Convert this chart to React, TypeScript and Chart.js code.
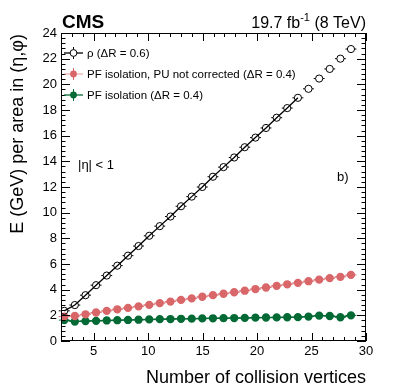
import React, { useEffect, useRef } from "react";
import { Chart, registerables } from "chart.js";

Chart.register(...registerables);

// ---------------- data ----------------
const vertices = [
  2.3, 3.27, 4.25, 5.22, 6.2, 7.17, 8.15, 9.12, 10.1, 11.07, 12.05, 13.02, 14.0, 14.97,
  15.95, 16.92, 17.9, 18.87, 19.85, 20.82, 21.8, 22.77, 23.75, 24.72, 25.7, 26.67, 27.65, 28.62,
];
const rho = [
  2.35, 2.8, 3.57, 4.35, 5.1, 5.87, 6.65, 7.4, 8.2, 8.95, 9.7, 10.5, 11.25, 12.0,
  12.8, 13.55, 14.3, 15.1, 15.85, 16.6, 17.4, 18.15, 18.95, 19.65, 20.45, 21.2, 22.0, 22.75,
];
const pfNotCorrected = [
  1.9, 1.95, 2.08, 2.22, 2.35, 2.47, 2.58, 2.7, 2.82, 2.95, 3.07, 3.2, 3.32, 3.45,
  3.57, 3.68, 3.8, 3.92, 4.05, 4.17, 4.3, 4.42, 4.53, 4.66, 4.78, 4.9, 5.0, 5.15,
];
const pfIsolation = [
  1.63, 1.52, 1.55, 1.57, 1.6, 1.62, 1.64, 1.66, 1.68, 1.7, 1.71, 1.73, 1.74, 1.76,
  1.77, 1.78, 1.79, 1.8, 1.82, 1.83, 1.84, 1.85, 1.86, 1.9, 1.98, 1.95, 1.85, 2.0,
];
const rhoLinePoints = 23; // points covered by the drawn ρ line
const binHalfWidth = 0.5;
const xTickValues = [5, 10, 15, 20, 25, 30];
const yTickValues = [0, 2, 4, 6, 8, 10, 12, 14, 16, 18, 20, 22, 24];
const legendLabels = [
  "ρ (ΔR = 0.6)",
  "PF isolation, PU not corrected (ΔR = 0.4)",
  "PF isolation (ΔR = 0.4)",
];
const xTitle = "Number of collision vertices";
const yTitle = "E (GeV) per area in (η,φ)";

// ---------------- style ----------------
const FONT = "'Liberation Sans', Arial, Helvetica, sans-serif";
const RED = "#d9676a";
const RED_LINE = "rgba(225,130,132,0.65)";
const GREEN = "#046a35";
const BLACK = "#000";
const W = 407;
const H = 391;
const AREA = { left: 61, right: 366, top: 33, bottom: 341 };

const toPts = (ys: number[]) => ys.map((y, i) => ({ x: vertices[i], y }));

const decor = {
  id: "decor",
  beforeDatasetsDraw(chart: any) {
    const ctx = chart.ctx;
    const xs = chart.scales.x;
    const ys = chart.scales.y;
    const series = [
      { vals: rho, color: BLACK, r: 3.6 },
      { vals: pfNotCorrected, color: RED, r: 3.4 },
      { vals: pfIsolation, color: GREEN, r: 3.4 },
    ];
    ctx.save();
    ctx.lineWidth = 1;
    series.forEach((s) => {
      ctx.strokeStyle = s.color;
      s.vals.forEach((v, i) => {
        const px = xs.getPixelForValue(vertices[i]);
        const py = ys.getPixelForValue(v);
        const l = xs.getPixelForValue(vertices[i] - binHalfWidth);
        const r = xs.getPixelForValue(vertices[i] + binHalfWidth);
        ctx.beginPath();
        ctx.moveTo(l, py);
        ctx.lineTo(px - s.r, py);
        ctx.moveTo(px + s.r, py);
        ctx.lineTo(r, py);
        ctx.stroke();
      });
    });
    ctx.restore();
  },
  afterDatasetsDraw(chart: any) {
    const ctx = chart.ctx;
    const a = chart.chartArea;
    const xs = chart.scales.x;
    const ys = chart.scales.y;
    ctx.save();
    ctx.strokeStyle = "#000";
    ctx.lineWidth = 1;
    ctx.strokeRect(a.left + 0.5, a.top + 0.5, a.right - a.left - 1, a.bottom - a.top - 1);
    ctx.beginPath();
    for (let v = Math.ceil(xs.min); v <= xs.max; v += 1) {
      const px = Math.round(xs.getPixelForValue(v)) + 0.5;
      const len = v % 5 === 0 ? 8 : 4;
      ctx.moveTo(px, a.bottom);
      ctx.lineTo(px, a.bottom - len);
      ctx.moveTo(px, a.top);
      ctx.lineTo(px, a.top + len);
    }
    for (let k = 0; k <= 60; k++) {
      const v = k * 0.4;
      if (v > ys.max + 1e-6) break;
      const py = Math.round(ys.getPixelForValue(v)) + 0.5;
      const len = k % 5 === 0 ? 9 : 4.5;
      ctx.moveTo(a.left, py);
      ctx.lineTo(a.left + len, py);
      ctx.moveTo(a.right, py);
      ctx.lineTo(a.right - len, py);
    }
    ctx.stroke();
    ctx.restore();
  },
  afterDraw(chart: any) {
    const ctx = chart.ctx;
    const a = chart.chartArea;
    ctx.save();
    ctx.fillStyle = "#000";
    ctx.textBaseline = "alphabetic";
    ctx.font = `bold 19px ${FONT}`;
    ctx.textAlign = "left";
    ctx.fillText("CMS", a.left + 1, 28);
    const big = `16px ${FONT}`;
    const small = `11px ${FONT}`;
    ctx.font = big;
    const p1 = "19.7 fb";
    const p3 = " (8 TeV)";
    const w1 = ctx.measureText(p1).width;
    const w3 = ctx.measureText(p3).width;
    ctx.font = small;
    const p2 = "-1";
    const w2 = ctx.measureText(p2).width;
    const x0 = a.right - (w1 + w2 + w3);
    ctx.font = big;
    ctx.fillText(p1, x0, 28);
    ctx.font = small;
    ctx.fillText(p2, x0 + w1, 21);
    ctx.font = big;
    ctx.fillText(p3, x0 + w1 + w2, 28);

    // legend
    ctx.font = `11.5px ${FONT}`;
    const rows = [53, 74, 95];
    const cols = [BLACK, RED, GREEN];
    const lineCols = [BLACK, RED_LINE, GREEN];
    rows.forEach((ry, i) => {
      const cx = 73.5;
      ctx.strokeStyle = lineCols[i];
      ctx.lineWidth = 1.3;
      ctx.beginPath();
      ctx.moveTo(64, ry);
      ctx.lineTo(83, ry);
      ctx.stroke();
      ctx.strokeStyle = cols[i];
      ctx.lineWidth = 1;
      ctx.beginPath();
      ctx.moveTo(cx, ry - 6);
      ctx.lineTo(cx, ry + 6);
      ctx.stroke();
      ctx.beginPath();
      ctx.arc(cx, ry, 3.4, 0, Math.PI * 2);
      if (i === 0) {
        ctx.fillStyle = "#fff";
        ctx.fill();
        ctx.stroke();
      } else {
        ctx.fillStyle = cols[i];
        ctx.fill();
      }
      ctx.fillStyle = "#000";
      ctx.textBaseline = "middle";
      ctx.fillText(legendLabels[i], 87, ry + 1);
    });

    ctx.textBaseline = "middle";
    ctx.font = `13px ${FONT}`;
    ctx.fillText("|η| < 1", 78, 165);
    ctx.fillText("b)", 337, 177);

    ctx.font = `18px ${FONT}`;
    ctx.textBaseline = "alphabetic";
    ctx.textAlign = "right";
    ctx.fillText(xTitle, a.right, 383);
    ctx.save();
    ctx.translate(23, a.top + 1);
    ctx.rotate(-Math.PI / 2);
    ctx.textAlign = "right";
    ctx.fillText(yTitle, 0, 0);
    ctx.restore();
    ctx.restore();
  },
};

export default function App() {
  const ref = useRef<HTMLCanvasElement | null>(null);
  useEffect(() => {
    if (!ref.current) return;
    const chart = new Chart(ref.current, {
      type: "scatter",
      data: {
        datasets: [
          {
            label: "rho markers",
            data: toPts(rho),
            pointStyle: "circle",
            pointRadius: 3.6,
            pointBorderWidth: 1,
            pointBackgroundColor: "rgba(0,0,0,0)",
            pointBorderColor: BLACK,
            showLine: false,
            order: 0,
          },
          {
            label: "rho line",
            data: toPts(rho.slice(0, rhoLinePoints)),
            showLine: true,
            borderColor: BLACK,
            borderWidth: 1.3,
            pointRadius: 0,
            order: 1,
          },
          {
            label: legendLabels[1],
            data: toPts(pfNotCorrected),
            showLine: true,
            borderColor: RED_LINE,
            borderWidth: 1.5,
            pointRadius: 3.4,
            pointBackgroundColor: RED,
            pointBorderColor: RED,
            order: 2,
          },
          {
            label: legendLabels[2],
            data: toPts(pfIsolation),
            showLine: true,
            borderColor: GREEN,
            borderWidth: 1.5,
            pointRadius: 3.4,
            pointBackgroundColor: GREEN,
            pointBorderColor: GREEN,
            order: 3,
          },
        ],
      },
      options: {
        responsive: false,
        animation: false,
        layout: { padding: { left: 0, top: AREA.top, right: W - AREA.right, bottom: 0 } },
        plugins: { legend: { display: false }, tooltip: { enabled: false } },
        scales: {
          x: {
            type: "linear",
            min: 2,
            max: 30,
            grid: { display: false, drawTicks: false },
            border: { display: false },
            afterBuildTicks: (s: any) => {
              s.ticks = xTickValues.map((v) => ({ value: v }));
            },
            afterFit: (s: any) => {
              s.height = H - AREA.bottom;
            },
            ticks: {
              autoSkip: false,
              maxRotation: 0,
              padding: 3,
              color: "#000",
              font: { family: FONT, size: 13 },
            },
          },
          y: {
            type: "linear",
            min: 0,
            max: 24,
            grid: { display: false, drawTicks: false },
            border: { display: false },
            afterBuildTicks: (s: any) => {
              s.ticks = yTickValues.map((v) => ({ value: v }));
            },
            afterFit: (s: any) => {
              s.width = AREA.left;
            },
            ticks: {
              autoSkip: false,
              padding: 4,
              color: "#000",
              font: { family: FONT, size: 13 },
            },
          },
        },
      },
      plugins: [decor],
    });
    return () => chart.destroy();
  }, []);
  return (
    <div style={{ position: "fixed", left: 0, top: 0, width: W, height: H, background: "#fff" }}>
      <canvas ref={ref} width={W} height={H} style={{ display: "block", width: W, height: H }} />
    </div>
  );
}
